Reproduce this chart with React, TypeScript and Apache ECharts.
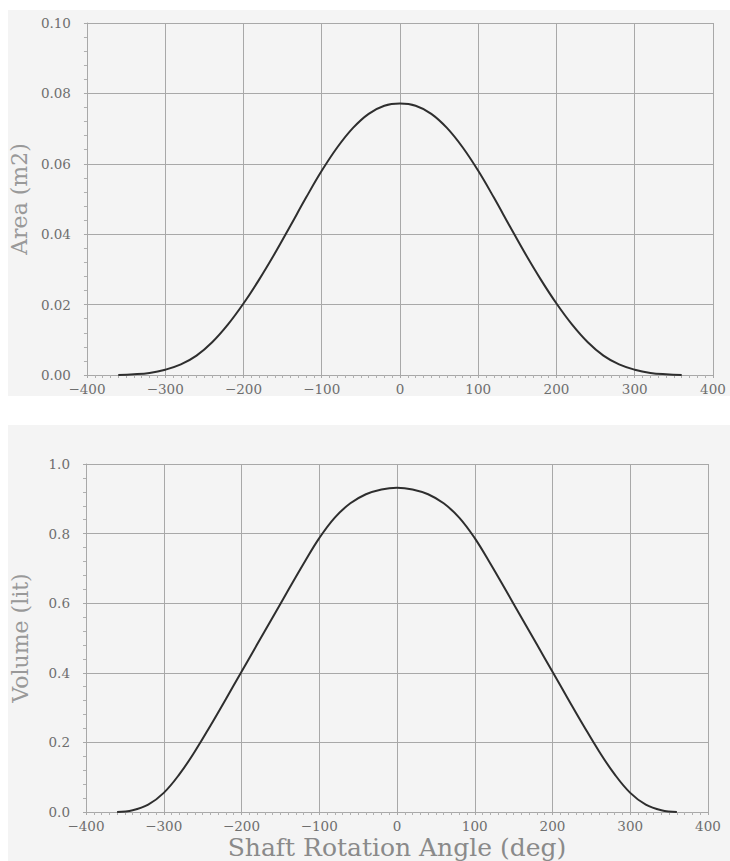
import React, { useEffect, useRef } from "react";
import * as echarts from "echarts";

const angles = [
  -360, -340, -320, -300, -280, -260, -240, -220, -200, -180, -160, -140, -120, -100, -80, -60, -40, -20,
  0, 20, 40, 60, 80, 100, 120, 140, 160, 180, 200, 220, 240, 260, 280, 300, 320, 340, 360,
];

const areaValues = [
  0, 0.0002, 0.0006, 0.0015, 0.003, 0.0055, 0.0093, 0.0143, 0.0203, 0.0271, 0.0345, 0.0424, 0.0504, 0.058,
  0.0647, 0.0702, 0.0742, 0.0765, 0.0771, 0.0765, 0.0742, 0.0702, 0.0647, 0.058, 0.0504, 0.0424, 0.0345,
  0.0271, 0.0203, 0.0143, 0.0093, 0.0055, 0.003, 0.0015, 0.0006, 0.0002, 0,
];

const volumeValues = [
  0, 0.005, 0.021, 0.055, 0.108, 0.174, 0.248, 0.325, 0.403, 0.481, 0.559, 0.637, 0.714, 0.787, 0.846, 0.887,
  0.913, 0.927, 0.932, 0.927, 0.913, 0.887, 0.846, 0.787, 0.714, 0.637, 0.559, 0.481, 0.403, 0.325, 0.248,
  0.174, 0.108, 0.055, 0.021, 0.005, 0,
];

const xTicks = [-400, -300, -200, -100, 0, 100, 200, 300, 400];
const areaTicks = [0, 0.02, 0.04, 0.06, 0.08, 0.1];
const volumeTicks = [0, 0.2, 0.4, 0.6, 0.8, 1.0];

const xTitle = "Shaft Rotation Angle (deg)";
const areaTitle = "Area (m2)";
const volumeTitle = "Volume (lit)";

const FONT = "DejaVu Serif";
const LABEL_COLOR = "#6e6e6e";
const GRID_COLOR = "#a8a8a8";

function xAxisFor(gridIndex: number, withName: boolean) {
  return {
    type: "value",
    gridIndex,
    min: xTicks[0],
    max: xTicks[xTicks.length - 1],
    interval: xTicks[1] - xTicks[0],
    name: withName ? xTitle : "",
    nameLocation: "middle",
    nameGap: 23,
    nameTextStyle: { fontFamily: FONT, fontSize: 25, color: "#8a8a8a" },
    axisLine: { show: true, onZero: false, lineStyle: { color: GRID_COLOR, width: 1 } },
    axisTick: { show: true, length: 3, inside: false, lineStyle: { color: GRID_COLOR } },
    minorTick: { show: true, splitNumber: 10, length: 3, lineStyle: { color: "#b0b0b0" } },
    splitLine: { show: true, lineStyle: { color: GRID_COLOR, width: 1 } },
    axisLabel: {
      fontFamily: FONT,
      fontSize: 13.5,
      color: LABEL_COLOR,
      margin: 7,
      formatter: (v: number) => String(v).replace("-", "\u2212"),
    },
  };
}

function yAxisFor(gridIndex: number, ticks: number[], title: string, digits: number) {
  return {
    type: "value",
    gridIndex,
    min: ticks[0],
    max: ticks[ticks.length - 1],
    interval: ticks[1] - ticks[0],
    name: title,
    nameLocation: "middle",
    nameGap: 55,
    nameTextStyle: { fontFamily: FONT, fontSize: 22, color: "#999999" },
    axisLine: { show: true, onZero: false, lineStyle: { color: GRID_COLOR, width: 1 } },
    axisTick: { show: true, length: 3, lineStyle: { color: GRID_COLOR } },
    minorTick: { show: true, splitNumber: 5, length: 3, lineStyle: { color: "#b0b0b0" } },
    splitLine: { show: true, lineStyle: { color: GRID_COLOR, width: 1 } },
    axisLabel: {
      fontFamily: FONT,
      fontSize: 13.5,
      color: LABEL_COLOR,
      margin: 16,
      formatter: (v: number) => v.toFixed(digits),
    },
  };
}

export default function App() {
  const ref = useRef<HTMLDivElement>(null);

  useEffect(() => {
    if (!ref.current) return;
    const chart = echarts.init(ref.current, undefined, { renderer: "svg" });
    const areaData = angles.map((a, i) => [a, areaValues[i]]);
    const volumeData = angles.map((a, i) => [a, volumeValues[i]]);

    chart.setOption({
      animation: false,
      backgroundColor: "#ffffff",
      graphic: [
        { type: "rect", z: -100, silent: true, shape: { x: 8, y: 10, width: 722, height: 386 }, style: { fill: "#f4f4f4" } },
        { type: "rect", z: -100, silent: true, shape: { x: 8, y: 425, width: 722, height: 436 }, style: { fill: "#f4f4f4" } },
        { type: "rect", z: 100, silent: true, shape: { x: 0, y: 396, width: 730, height: 29 }, style: { fill: "#ffffff" } },
      ],
      grid: [
        { left: 86, right: 17, top: 23, height: 352 },
        { left: 86, right: 22, top: 464, height: 348 },
      ],
      xAxis: [xAxisFor(0, false), xAxisFor(1, true)],
      yAxis: [yAxisFor(0, areaTicks, areaTitle, 2), yAxisFor(1, volumeTicks, volumeTitle, 1)],
      series: [
        {
          type: "line",
          xAxisIndex: 0,
          yAxisIndex: 0,
          data: areaData,
          showSymbol: false,
          smooth: 0.4,
          lineStyle: { color: "#2e2e2e", width: 2 },
        },
        {
          type: "line",
          xAxisIndex: 1,
          yAxisIndex: 1,
          data: volumeData,
          showSymbol: false,
          smooth: 0.4,
          lineStyle: { color: "#2e2e2e", width: 2 },
        },
      ],
    });
    return () => chart.dispose();
  }, []);

  return (
    <div
      ref={ref}
      style={{ position: "absolute", left: 0, top: 0, width: 730, height: 861 }}
    />
  );
}
